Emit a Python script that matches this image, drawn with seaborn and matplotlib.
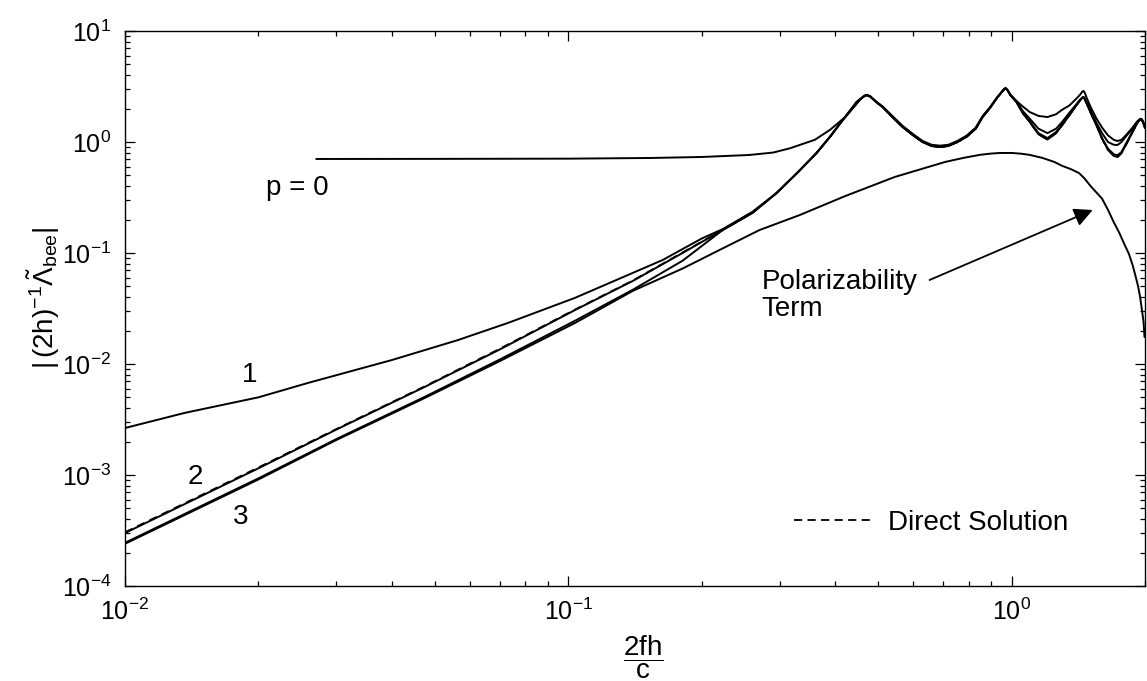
import numpy as np
import pandas as pd
import matplotlib
matplotlib.use("Agg")
import matplotlib.pyplot as plt
import seaborn as sns
from matplotlib.ticker import LogLocator, NullFormatter

# ---------------------------------------------------------------- data
# normalised frequency 2fh/c and |(2h)^-1 Lambda_bee| for each expansion order

# resonance region shared by the higher orders (x >= 0.223)
x_res = [0.223, 0.26, 0.295, 0.33, 0.363, 0.39, 0.416, 0.437, 0.454, 0.465,
         0.471, 0.48, 0.495, 0.512, 0.54, 0.568, 0.60, 0.630, 0.66, 0.689,
         0.72, 0.755, 0.792, 0.83, 0.861, 0.895, 0.925, 0.95, 0.962, 0.969,
         0.978, 0.995, 1.026, 1.06, 1.099, 1.15, 1.205, 1.26, 1.30, 1.351,
         1.40, 1.43, 1.445, 1.453, 1.462, 1.48, 1.51, 1.555, 1.60, 1.65,
         1.70, 1.734, 1.77, 1.82, 1.875, 1.92, 1.945, 1.96, 1.97, 1.985, 2.0]

# log10 values of the lowest (p = 3 / direct) branch in the resonance region
log_bottom = [-0.793, -0.64, -0.46, -0.27, -0.10, 0.05, 0.198, 0.30, 0.378, 0.415,
              0.423, 0.41, 0.36, 0.315, 0.22, 0.135, 0.06, 0.0, -0.035, -0.045,
              -0.035, 0.0, 0.048, 0.12, 0.228, 0.31, 0.393, 0.45, 0.475, 0.484,
              0.47, 0.42, 0.36, 0.26, 0.18, 0.07, 0.022, 0.08, 0.15, 0.243,
              0.33, 0.38, 0.40, 0.405, 0.39, 0.34, 0.26, 0.15, 0.03, -0.07,
              -0.125, -0.135, -0.10, -0.01, 0.09, 0.17, 0.20, 0.205, 0.195, 0.165, 0.125]

log_p2_res = [-0.793, -0.64, -0.46, -0.27, -0.10, 0.05, 0.198, 0.30, 0.378, 0.415,
              0.423, 0.41, 0.36, 0.315, 0.22, 0.135, 0.06, 0.0, -0.035, -0.045,
              -0.035, 0.0, 0.048, 0.12, 0.228, 0.31, 0.393, 0.45, 0.475, 0.484,
              0.47, 0.42, 0.36, 0.262, 0.185, 0.08, 0.035, 0.09, 0.155, 0.245,
              0.33, 0.38, 0.40, 0.405, 0.39, 0.34, 0.26, 0.15, 0.035, -0.06,
              -0.11, -0.12, -0.09, 0.0, 0.095, 0.17, 0.20, 0.205, 0.195, 0.165, 0.125]

log_p1_res = [-0.785, -0.63, -0.46, -0.27, -0.10, 0.05, 0.198, 0.30, 0.378, 0.415,
              0.423, 0.41, 0.36, 0.315, 0.22, 0.135, 0.06, 0.0, -0.035, -0.045,
              -0.035, 0.0, 0.048, 0.12, 0.228, 0.31, 0.393, 0.45, 0.475, 0.484,
              0.47, 0.42, 0.365, 0.28, 0.21, 0.12, 0.08, 0.12, 0.18, 0.265,
              0.34, 0.385, 0.40, 0.405, 0.39, 0.35, 0.28, 0.17, 0.08, 0.0,
              -0.025, -0.027, 0.0, 0.06, 0.12, 0.18, 0.20, 0.207, 0.20, 0.17, 0.14]

# p = 0 : flat plateau, then the same resonances
x_p0 = [0.027, 0.05, 0.1, 0.153, 0.2, 0.256, 0.29, 0.316, 0.36, 0.389, 0.42,
        0.447, 0.46, 0.471, 0.48, 0.495, 0.512, 0.54, 0.568, 0.60, 0.630,
        0.66, 0.689, 0.72, 0.755, 0.792, 0.83, 0.861, 0.895, 0.925, 0.95,
        0.962, 0.969, 0.978, 0.995, 1.026, 1.06, 1.099, 1.15, 1.205, 1.26,
        1.30, 1.351, 1.40, 1.43, 1.445, 1.453, 1.462, 1.48, 1.51, 1.555,
        1.60, 1.65, 1.70, 1.734, 1.77, 1.82, 1.875, 1.92, 1.945, 1.96,
        1.97, 1.985, 2.0]
log_p0 = [-0.153, -0.152, -0.150, -0.144, -0.135, -0.117, -0.095, -0.057, 0.02,
          0.108, 0.22, 0.363, 0.40, 0.423, 0.412, 0.365, 0.32, 0.23, 0.145,
          0.07, 0.01, -0.025, -0.033, -0.025, 0.01, 0.058, 0.13, 0.235, 0.315,
          0.395, 0.45, 0.475, 0.486, 0.47, 0.425, 0.37, 0.32, 0.27, 0.235,
          0.225, 0.25, 0.29, 0.33, 0.39, 0.43, 0.455, 0.46, 0.445, 0.39,
          0.31, 0.21, 0.13, 0.06, 0.02, 0.009, 0.02, 0.07, 0.13, 0.185,
          0.205, 0.21, 0.20, 0.175, 0.14]

# low-frequency branches of the higher orders
x_p1_low = [0.0100, 0.01365, 0.0200, 0.0259, 0.0400, 0.0564, 0.0731, 0.1035,
            0.1633, 0.200]
y_p1_low = [0.00265, 0.00363, 0.00501, 0.00676, 0.01086, 0.01644, 0.02344,
            0.0394, 0.0865, 0.135]

x_p2_low = [0.0100, 0.0200, 0.0300, 0.0474, 0.0700, 0.1035, 0.140, 0.181]
y_p2_low = [3.00e-4, 1.15e-3, 2.57e-3, 6.21e-3, 0.0135, 0.0306, 0.0562, 0.100]

x_p3_low = [0.0100, 0.0200, 0.0300, 0.0474, 0.0700, 0.1035, 0.140, 0.181]
y_p3_low = [2.45e-4, 9.33e-4, 2.11e-3, 5.05e-3, 0.01096, 0.0245, 0.0468, 0.0851]

y_direct_low = [3.05e-4, 1.17e-3, 2.60e-3, 6.28e-3, 0.0137, 0.0309, 0.0566, 0.101]

# polarizability term
x_pol = [0.0100, 0.0200, 0.0300, 0.0474, 0.0700, 0.1035, 0.140, 0.181, 0.223,
         0.270, 0.333, 0.42, 0.545, 0.708, 0.78, 0.85, 0.90, 0.94, 1.0, 1.05,
         1.10, 1.175, 1.25, 1.30, 1.36, 1.42, 1.46, 1.51, 1.55, 1.60, 1.65,
         1.70, 1.75, 1.80, 1.84, 1.875, 1.90, 1.93, 1.95, 1.97, 1.985, 1.995]
y_pol = [2.40e-4, 9.12e-4, 2.07e-3, 4.93e-3, 0.0106, 0.0234, 0.0457, 0.0724,
         0.110, 0.161, 0.220, 0.324, 0.484, 0.661, 0.720, 0.767, 0.787, 0.796,
         0.797, 0.785, 0.765, 0.718, 0.660, 0.610, 0.570, 0.525, 0.470, 0.398,
         0.355, 0.309, 0.245, 0.190, 0.152, 0.118, 0.098, 0.078, 0.064, 0.050,
         0.040, 0.030, 0.024, 0.0175]

# ---------------------------------------------------------------- tables
x_res_a = np.array(x_res)
frames = [
    pd.DataFrame({"x": x_p0, "y": 10.0 ** np.array(log_p0), "curve": "p0"}),
    pd.DataFrame({"x": np.r_[x_p1_low, x_res_a],
                  "y": np.r_[y_p1_low, 10.0 ** np.array(log_p1_res)], "curve": "p1"}),
    pd.DataFrame({"x": np.r_[x_p2_low, x_res_a],
                  "y": np.r_[y_p2_low, 10.0 ** np.array(log_p2_res)], "curve": "p2"}),
    pd.DataFrame({"x": np.r_[x_p3_low, x_res_a],
                  "y": np.r_[y_p3_low, 10.0 ** np.array(log_bottom)], "curve": "p3"}),
    pd.DataFrame({"x": np.r_[x_p2_low, x_res_a],
                  "y": np.r_[y_direct_low, 10.0 ** np.array(log_bottom)], "curve": "direct"}),
    pd.DataFrame({"x": x_pol, "y": y_pol, "curve": "pol"}),
]
df = pd.concat(frames, ignore_index=True)

# ---------------------------------------------------------------- style
sns.set_style("white")
plt.rcParams["font.family"] = ["Liberation Sans", "DejaVu Sans"]
plt.rcParams["mathtext.fontset"] = "custom"
plt.rcParams["mathtext.rm"] = "Liberation Sans"
plt.rcParams["mathtext.it"] = "Liberation Sans:italic"
plt.rcParams["mathtext.default"] = "regular"
plt.rcParams["text.color"] = "black"
plt.rcParams["axes.labelcolor"] = "black"
plt.rcParams["lines.solid_capstyle"] = "round"

fig = plt.figure(figsize=(11.47, 6.81), dpi=100)
ax = fig.add_axes([125 / 1147, 1 - 586 / 681, 1020 / 1147, 555 / 681])
ax.set_xscale("log")
ax.set_yscale("log")

for name in ["p0", "p1", "p2", "p3", "pol"]:
    sns.lineplot(data=df[df.curve == name], x="x", y="y", color="black",
                 lw=1.4, estimator=None, ax=ax, legend=False)
sns.lineplot(data=df[df.curve == "direct"], x="x", y="y", color="black",
             lw=1.3, linestyle=(0, (4.5, 3)), estimator=None, ax=ax,
             label="Direct Solution")

ax.set_xlim(0.01, 2.0)
ax.set_ylim(1e-4, 1e1)

ax.xaxis.set_major_locator(LogLocator(base=10, numticks=10))
ax.xaxis.set_minor_locator(LogLocator(base=10, subs=np.arange(2, 10), numticks=20))
ax.yaxis.set_major_locator(LogLocator(base=10, numticks=10))
ax.yaxis.set_minor_locator(LogLocator(base=10, subs=np.arange(2, 10), numticks=20))
ax.xaxis.set_minor_formatter(NullFormatter())
ax.yaxis.set_minor_formatter(NullFormatter())

ax.tick_params(which="both", direction="in", bottom=True, left=True,
               top=True, right=True, color="black", width=0.9,
               labelsize=18, labelcolor="black")
ax.tick_params(which="major", length=7.5)
ax.tick_params(which="minor", length=3.8)
ax.tick_params(axis="y", pad=10)
ax.tick_params(axis="x", pad=9)
for s in ax.spines.values():
    s.set_color("black")
    s.set_linewidth(1.0)

ax.set_xlabel(r"$\dfrac{2fh}{c}$", fontsize=20)
ax.xaxis.set_label_coords(0.508, -0.085)
ax.set_ylabel(r"$|\,(2h)^{-1}\tilde{\Lambda}_{bee}|$", fontsize=20)
ax.yaxis.set_label_coords(-0.062, 0.52)

# curve labels
lab = dict(fontsize=20, color="black", ha="center", va="center")
ax.text(0.0245, 0.385, "p = 0", **lab)
ax.text(0.0191, 0.0079, "1", **lab)
ax.text(0.0144, 9.6e-4, "2", **lab)
ax.text(0.0182, 4.2e-4, "3", **lab)

ax.text(0.273, 0.041, "Polarizability\nTerm", fontsize=20, color="black",
        ha="left", va="center", linespacing=1.05)
ax.annotate("", xy=(1.524, 0.244), xytext=(0.653, 0.0571),
            arrowprops=dict(arrowstyle="-|>", color="black", lw=1.3,
                            mutation_scale=28, shrinkA=0, shrinkB=0))

leg = ax.legend(loc="center left", bbox_to_anchor=(0.6556, 0.1135), frameon=False,
                fontsize=20, handlelength=2.85, handletextpad=0.55, borderpad=0,
                borderaxespad=0, labelcolor="black")

fig.savefig("out.png", dpi=100, facecolor="white")
